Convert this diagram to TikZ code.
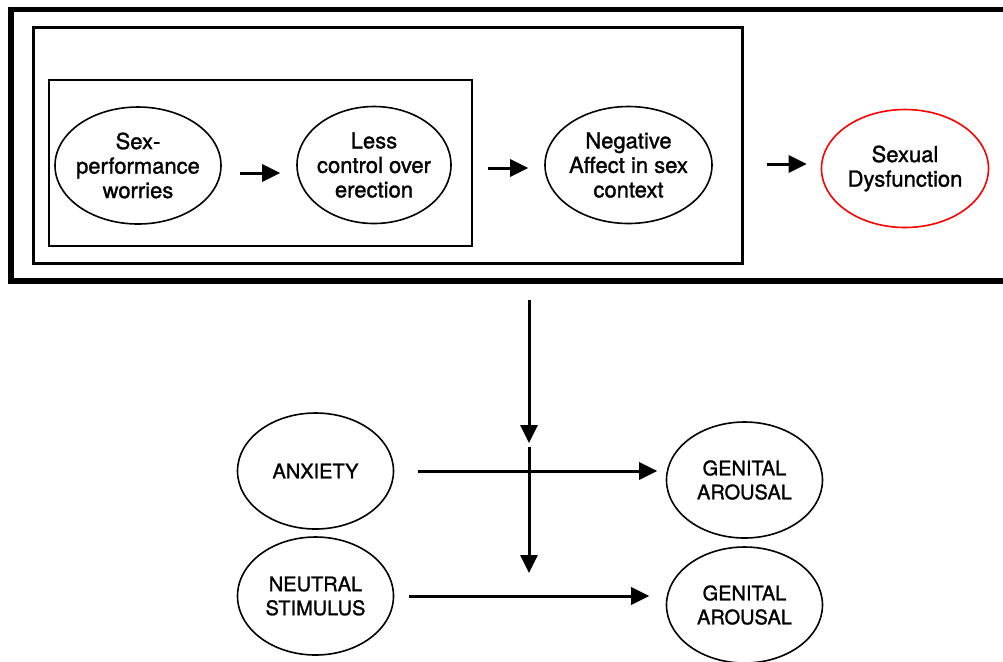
\documentclass[tikz,border=0pt]{standalone}
\usepackage{fontspec}
\setmainfont{TeX Gyre Heros}[FakeBold=1.3]
\usetikzlibrary{shapes.geometric,arrows.meta}
\begin{document}
\begin{tikzpicture}[x=0.5pt,y=-0.5pt,
  oval/.style={draw,ellipse,line width=0.8pt,inner sep=-4pt,align=center,font=\fontsize{11}{12.25}\selectfont},
  caps/.style={oval,font=\fontsize{10}{12}\selectfont,minimum width=78pt,minimum height=58pt},
  box/.style={draw,rectangle,inner sep=0pt},
  arr/.style={-{Triangle[length=9pt,width=8.5pt]},line width=1.5pt}]
\useasboundingbox (0,0) rectangle (1003,661);
\clip (0,0) rectangle (1003,661);

\node[box,line width=2.8pt,minimum width=500.5pt,minimum height=135.75pt] (outer) at (511.5,145.25) {};
\node[box,line width=1.5pt,minimum width=354.5pt,minimum height=117.75pt] (frame) at (387.5,145.25) {};
\node[box,line width=1pt,minimum width=211.5pt,minimum height=83pt] (inner) at (260.5,163) {};

\node[oval,minimum width=83pt,minimum height=58.5pt] (worry) at (138,165.5) {Sex-\\performance\\worries};
\node[oval,minimum width=77pt,minimum height=58.5pt] (control) at (374,165) {Less\\control over\\erection};
\node[oval,minimum width=83.5pt,minimum height=58.5pt] (affect) at (628.5,165) {Negative\\Affect in sex\\context};
\node[oval,draw=red,minimum width=83.5pt,minimum height=59pt] (dys) at (905,168.5) {Sexual\\Dysfunction};

\node[caps] (anx) at (315.5,471) {ANXIETY};
\node[caps,minimum height=59pt] (neut) at (315.5,596) {NEUTRAL\\STIMULUS};
\node[caps] (gen1) at (744.5,480) {GENITAL\\AROUSAL};
\node[caps] (gen2) at (744.5,605) {GENITAL\\AROUSAL};
\coordinate (cross) at (529,471);

\draw[arr,shorten <=9pt,shorten >=8pt] ([yshift=-3.75pt]worry.east) -- ([yshift=-4pt]control.west);
\draw[arr,shorten <=7.5pt,shorten >=8pt] ([yshift=-2.5pt]inner.east) -- ([yshift=-2.5pt]inner.east -| affect.west);
\draw[arr,shorten <=11.5pt,shorten >=7pt] ([yshift=2.25pt]dys.west -| frame.east) -- ([yshift=2.25pt]dys.west);

\draw[arr,shorten <=11.75pt,shorten >=4.25pt] (anx.east) -- (anx.east -| gen1.west);
\draw[arr,shorten <=7.25pt,shorten >=8.25pt] (neut.east) -- (neut.east -| gen2.west);
\draw[arr,shorten <=8pt,shorten >=14pt] (outer.south -| cross) -- (cross);
\draw[arr,shorten <=-12pt,shorten >=11.5pt] (cross) -- (cross |- neut.east);
\end{tikzpicture}
\end{document}
